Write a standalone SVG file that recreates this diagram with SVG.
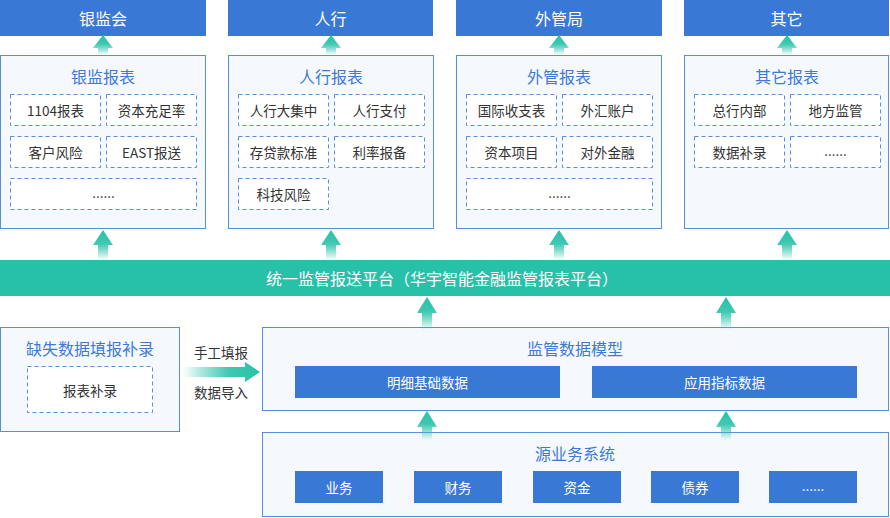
<svg xmlns="http://www.w3.org/2000/svg" width="890" height="518" viewBox="0 0 890 518">
<defs>
<style>
text{font-family:"Noto Sans CJK SC","Liberation Sans",sans-serif;dominant-baseline:central;text-anchor:middle}
.bar{fill:#3a78d6}
.barT{fill:#ffffff;font-size:16px}
.box{fill:#f5f9fe;stroke:#5590e0;stroke-width:1}
.title{fill:#3d7ad6;font-size:16px}
.dash{fill:#ffffff;stroke:#5590e0;stroke-width:1;stroke-dasharray:4 3}
.item{fill:#333333;font-size:13.5px}
.blk{fill:#3a78d6}
.blkT{fill:#ffffff;font-size:13.5px}
.lbl{fill:#333333;font-size:13.5px}
.up{fill:url(#gUp)}
</style>
<linearGradient id="gUp" x1="0" y1="0" x2="0" y2="1">
<stop offset="0" stop-color="#27c1a8"/>
<stop offset="0.45" stop-color="#3fc8b2"/>
<stop offset="1" stop-color="#27c1a8" stop-opacity="0"/>
</linearGradient>
<linearGradient id="gRight" x1="0" y1="0" x2="1" y2="0">
<stop offset="0" stop-color="#27c1a8" stop-opacity="0"/>
<stop offset="0.6" stop-color="#3fc8b2"/>
<stop offset="1" stop-color="#27c1a8"/>
</linearGradient>
</defs>

<g id="top-yinjianhui"><rect class="bar" x="0" y="0" width="206" height="36"/><text class="barT" x="103" y="17.5">银监会</text></g>
<g id="top-renhang"><rect class="bar" x="228" y="0" width="205" height="36"/><text class="barT" x="330.5" y="17.5">人行</text></g>
<g id="top-waiguanju"><rect class="bar" x="456" y="0" width="206" height="36"/><text class="barT" x="559" y="17.5">外管局</text></g>
<g id="top-qita"><rect class="bar" x="684" y="0" width="205" height="36"/><text class="barT" x="786.5" y="17.5">其它</text></g>

<g id="rep-yinjian">
<rect class="box" x="0.5" y="55.5" width="205" height="173"/>
<text class="title" x="103" y="75.5">银监报表</text>
<rect class="dash" x="10.5" y="94.5" width="90" height="31"/><text class="item" x="55.5" y="109.5">1104报表</text>
<rect class="dash" x="106.5" y="94.5" width="90" height="31"/><text class="item" x="151.5" y="109.5">资本充足率</text>
<rect class="dash" x="10.5" y="136.5" width="90" height="31"/><text class="item" x="55.5" y="151.5">客户风险</text>
<rect class="dash" x="106.5" y="136.5" width="90" height="31"/><text class="item" x="151.5" y="151.5">EAST报送</text>
<rect class="dash" x="10.5" y="178.5" width="186" height="31"/><text class="item" x="103.5" y="191.5">......</text>
</g>
<g id="rep-renhang">
<rect class="box" x="228.5" y="55.5" width="205" height="173"/>
<text class="title" x="331" y="75.5">人行报表</text>
<rect class="dash" x="238.5" y="94.5" width="90" height="31"/><text class="item" x="283.5" y="109.5">人行大集中</text>
<rect class="dash" x="334.5" y="94.5" width="90" height="31"/><text class="item" x="379.5" y="109.5">人行支付</text>
<rect class="dash" x="238.5" y="136.5" width="90" height="31"/><text class="item" x="283.5" y="151.5">存贷款标准</text>
<rect class="dash" x="334.5" y="136.5" width="90" height="31"/><text class="item" x="379.5" y="151.5">利率报备</text>
<rect class="dash" x="238.5" y="178.5" width="90" height="31"/><text class="item" x="283.5" y="193.5">科技风险</text>
</g>
<g id="rep-waiguan">
<rect class="box" x="456.5" y="55.5" width="205" height="173"/>
<text class="title" x="559" y="75.5">外管报表</text>
<rect class="dash" x="466.5" y="94.5" width="90" height="31"/><text class="item" x="511.5" y="109.5">国际收支表</text>
<rect class="dash" x="562.5" y="94.5" width="90" height="31"/><text class="item" x="607.5" y="109.5">外汇账户</text>
<rect class="dash" x="466.5" y="136.5" width="90" height="31"/><text class="item" x="511.5" y="151.5">资本项目</text>
<rect class="dash" x="562.5" y="136.5" width="90" height="31"/><text class="item" x="607.5" y="151.5">对外金融</text>
<rect class="dash" x="466.5" y="178.5" width="186" height="31"/><text class="item" x="559.5" y="191.5">......</text>
</g>
<g id="rep-qita">
<rect class="box" x="684.5" y="55.5" width="204" height="173"/>
<text class="title" x="787" y="75.5">其它报表</text>
<rect class="dash" x="694.5" y="94.5" width="90" height="31"/><text class="item" x="739.5" y="109.5">总行内部</text>
<rect class="dash" x="790.5" y="94.5" width="90" height="31"/><text class="item" x="835.5" y="109.5">地方监管</text>
<rect class="dash" x="694.5" y="136.5" width="90" height="31"/><text class="item" x="739.5" y="151.5">数据补录</text>
<rect class="dash" x="790.5" y="136.5" width="90" height="31"/><text class="item" x="835.5" y="149.5">......</text>
</g>

<g id="platform">
<rect x="0" y="260" width="890" height="36" fill="#27c1aa"/>
<text x="442" y="277.5" fill="#ffffff" style="font-size:16px">统一监管报送平台（华宇智能金融监管报表平台）</text>
</g>

<g id="missing-data">
<rect class="box" x="0.5" y="327.5" width="179" height="104"/>
<text class="title" x="90" y="347.5">缺失数据填报补录</text>
<rect class="dash" x="27.5" y="366.5" width="125" height="46"/>
<text class="item" x="90" y="389.5">报表补录</text>
</g>

<g id="data-model">
<rect class="box" x="262.5" y="327.5" width="626" height="83"/>
<text class="title" x="575" y="347.5">监管数据模型</text>
<rect class="blk" x="295" y="366" width="265" height="32"/><text class="blkT" x="427.5" y="381.5">明细基础数据</text>
<rect class="blk" x="592" y="366" width="265" height="32"/><text class="blkT" x="724.5" y="381.5">应用指标数据</text>
</g>

<g id="source-systems">
<rect class="box" x="262.5" y="432.5" width="626" height="84"/>
<text class="title" x="575" y="452.5">源业务系统</text>
<rect class="blk" x="295" y="471" width="88" height="32"/><text class="blkT" x="339" y="486.5">业务</text>
<rect class="blk" x="414" y="471" width="88" height="32"/><text class="blkT" x="458" y="486.5">财务</text>
<rect class="blk" x="533" y="471" width="88" height="32"/><text class="blkT" x="577" y="486.5">资金</text>
<rect class="blk" x="651" y="471" width="88" height="32"/><text class="blkT" x="695" y="486.5">债券</text>
<rect class="blk" x="769" y="471" width="88" height="32"/><text class="blkT" x="813" y="484.5">......</text>
</g>

<g id="connectors">
<path class="up" d="M103 35 L113 48 L108 48 L108 55 L98 55 L98 48 L93 48 Z"/>
<path class="up" d="M331 35 L341 48 L336 48 L336 55 L326 55 L326 48 L321 48 Z"/>
<path class="up" d="M559 35 L569 48 L564 48 L564 55 L554 55 L554 48 L549 48 Z"/>
<path class="up" d="M787 35 L797 48 L792 48 L792 55 L782 55 L782 48 L777 48 Z"/>
<path class="up" d="M103 230 L113 245 L108 245 L108 260 L98 260 L98 245 L93 245 Z"/>
<path class="up" d="M331 230 L341 245 L336 245 L336 260 L326 260 L326 245 L321 245 Z"/>
<path class="up" d="M559 230 L569 245 L564 245 L564 260 L554 260 L554 245 L549 245 Z"/>
<path class="up" d="M787 230 L797 245 L792 245 L792 260 L782 260 L782 245 L777 245 Z"/>
<path class="up" d="M427 297 L437 313 L432 313 L432 330 L422 330 L422 313 L417 313 Z"/>
<path class="up" d="M726 297 L736 313 L731 313 L731 330 L721 330 L721 313 L716 313 Z"/>
<path class="up" d="M427 411 L437 427 L432 427 L432 440 L422 440 L422 427 L417 427 Z"/>
<path class="up" d="M726 411 L736 427 L731 427 L731 440 L721 440 L721 427 L716 427 Z"/>
<path fill="url(#gRight)" d="M183 367 L245 367 L245 362 L260 372 L245 382 L245 377 L183 377 Z"/>
<text class="lbl" x="221" y="351.5">手工填报</text>
<text class="lbl" x="221" y="391.5">数据导入</text>
</g>
</svg>
